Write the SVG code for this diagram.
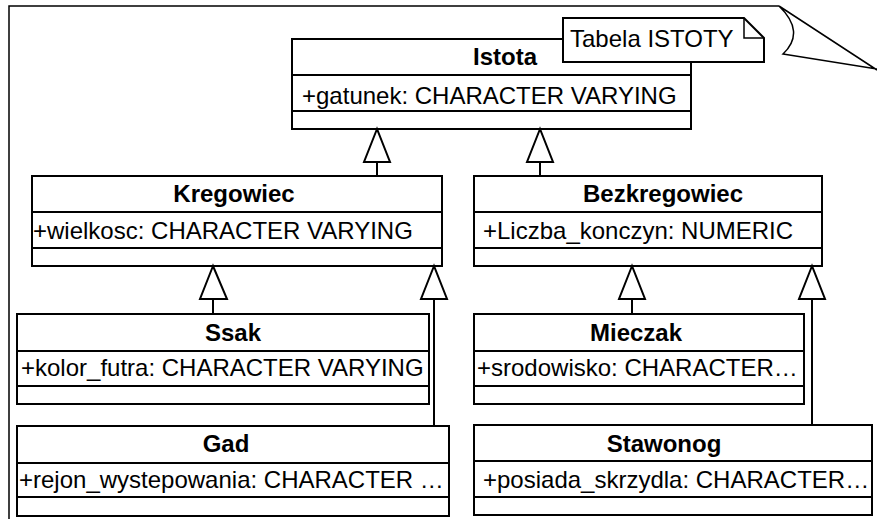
<svg xmlns="http://www.w3.org/2000/svg" width="877" height="519" viewBox="0 0 877 519">
<style>
.box{fill:#fff;stroke:#000;stroke-width:2}
.div{stroke:#000;stroke-width:2}
.t{font-family:"Liberation Sans",Arial,sans-serif;font-size:24px;fill:#000}
.b{font-weight:bold;text-anchor:middle}
.con line{stroke:#000;stroke-width:2}
.con polygon{fill:#fff;stroke:#000;stroke-width:2}
.thin{fill:none;stroke:#000;stroke-width:1.5}
</style>
<rect width="877" height="519" fill="#fff"/>
<g id="frame">
<path d="M9,519 V6 H779" class="thin" stroke-width="2"/>
<path d="M779,6 L877,70 M779,6 Q806,32 783,54 L877,69" class="thin"/>
</g>
<g id="istota">
<rect class="box" x="292" y="39" width="399" height="90"/>
<line class="div" x1="292" y1="75" x2="691" y2="75"/>
<line class="div" x1="292" y1="111" x2="691" y2="111"/>
<text class="t b" x="505" y="65">Istota</text>
<text class="t" x="302" y="104">+gatunek: CHARACTER VARYING</text>
</g>
<g id="note">
<path class="box" stroke-width="1.5" d="M563,18 H744 L764,38 V62 H563 Z"/>
<path class="thin" d="M744,18 V38 H764"/>
<text class="t" x="570" y="47">Tabela ISTOTY</text>
</g>
<g id="kregowiec">
<rect class="box" x="32" y="176" width="410" height="90"/>
<line class="div" x1="32" y1="212" x2="442" y2="212"/>
<line class="div" x1="32" y1="248" x2="442" y2="248"/>
<text class="t b" x="234" y="202">Kregowiec</text>
<text class="t" x="33" y="239">+wielkosc: CHARACTER VARYING</text>
</g>
<g id="bezkregowiec">
<rect class="box" x="474" y="176" width="348" height="90"/>
<line class="div" x1="474" y1="212" x2="822" y2="212"/>
<line class="div" x1="474" y1="248" x2="822" y2="248"/>
<text class="t b" x="663" y="202">Bezkregowiec</text>
<text class="t" x="483" y="239">+Liczba_konczyn: NUMERIC</text>
</g>
<g id="ssak">
<rect class="box" x="17" y="314" width="412" height="90"/>
<line class="div" x1="17" y1="351" x2="429" y2="351"/>
<line class="div" x1="17" y1="386" x2="429" y2="386"/>
<text class="t b" x="233" y="341">Ssak</text>
<text class="t" x="21" y="376">+kolor_futra: CHARACTER VARYING</text>
</g>
<g id="gad">
<rect class="box" x="17" y="426" width="432" height="90"/>
<line class="div" x1="17" y1="463" x2="449" y2="463"/>
<line class="div" x1="17" y1="497" x2="449" y2="497"/>
<text class="t b" x="226" y="452">Gad</text>
<text class="t" x="19" y="488">+rejon_wystepowania: CHARACTER …</text>
</g>
<g id="mieczak">
<rect class="box" x="474" y="314" width="330" height="90"/>
<line class="div" x1="474" y1="351" x2="804" y2="351"/>
<line class="div" x1="474" y1="386" x2="804" y2="386"/>
<text class="t b" x="636" y="341">Mieczak</text>
<text class="t" x="477" y="376">+srodowisko: CHARACTER…</text>
</g>
<g id="stawonog">
<rect class="box" x="474" y="425" width="398" height="90"/>
<line class="div" x1="474" y1="461" x2="872" y2="461"/>
<line class="div" x1="474" y1="497" x2="872" y2="497"/>
<text class="t b" x="664" y="452">Stawonog</text>
<text class="t" x="483" y="488">+posiada_skrzydla: CHARACTER…</text>
</g>
<g id="connectors" class="con">
<line x1="377" y1="176" x2="377" y2="162"/>
<polygon points="377,129 364,162 390,162"/>
<line x1="540" y1="176" x2="540" y2="162"/>
<polygon points="540,129 527,162 553,162"/>
<line x1="213" y1="314" x2="213" y2="299"/>
<polygon points="213,266 200,299 227,299"/>
<line x1="434" y1="426" x2="434" y2="299"/>
<polygon points="434,266 421,299 447,299"/>
<line x1="632" y1="314" x2="632" y2="299"/>
<polygon points="632,266 619,299 645,299"/>
<line x1="812" y1="425" x2="812" y2="299"/>
<polygon points="812,266 799,299 825,299"/>
</g>
</svg>
